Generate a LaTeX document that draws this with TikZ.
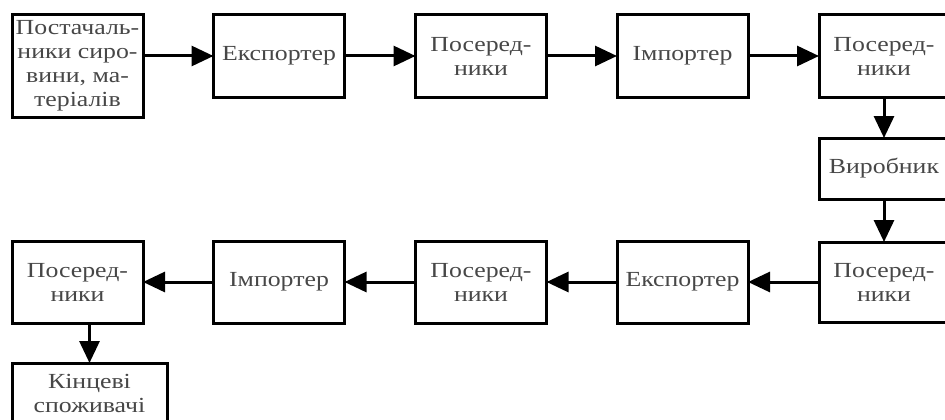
\documentclass[tikz,border=0pt]{standalone}
\usepackage{fontspec}
\setmainfont[FakeStretch=1.2]{Liberation Serif}
\usetikzlibrary{arrows.meta}
\begin{document}
\begin{tikzpicture}[x=1pt,y=-1pt,
  box/.style={draw=black,line width=3pt,rectangle,inner sep=0pt,outer sep=0pt,align=center,
    text=black!72,font=\fontsize{21.5}{24}\selectfont,minimum width=131pt,minimum height=82pt},
  conn/.style={line width=3pt,-{Triangle[length=22pt,width=20pt]}}]
\clip (0,0) rectangle (945,420);
\fill[white] (0,0) rectangle (945,420);
\node[box,minimum height=102pt] (A) at (77.5,66) {Постачаль-\\ники сиро-\\вини, ма-\\теріалів};
\node[box] (B) at (279,56) {Експортер};
\node[box] (C) at (481,56) {Посеред-\\ники};
\node[box] (D) at (682.5,56) {Імпортер};
\node[box,minimum width=130pt] (E) at (884,56) {Посеред-\\ники};
\node[box,minimum width=130pt,minimum height=61pt] (F) at (884,168.5) {Виробник};
\node[box,minimum width=130pt,minimum height=80pt] (G) at (884,282) {Посеред-\\ники};
\node[box] (H) at (682.5,282) {Експортер};
\node[box] (I) at (481,282) {Посеред-\\ники};
\node[box] (J) at (279,282) {Імпортер};
\node[box] (K) at (77.5,282) {Посеред-\\ники};
\node[box,minimum width=155pt,minimum height=60pt] (L) at (89.5,393) {Кінцеві\\споживачі};
\draw[conn] (A.east |- B.west) -- (B.west);
\draw[conn] (B) -- (C);
\draw[conn] (C) -- (D);
\draw[conn] (D) -- (E);
\draw[conn] (E) -- (F);
\draw[conn] (F) -- (G);
\draw[conn] (G) -- (H);
\draw[conn] (H) -- (I);
\draw[conn] (I) -- (J);
\draw[conn] (J) -- (K);
\draw[conn] (K.south -| L.north) -- (L.north);
\end{tikzpicture}
\end{document}
